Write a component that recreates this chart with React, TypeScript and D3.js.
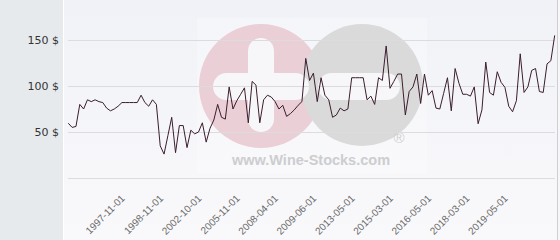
import React from "react";
import * as d3 from "d3";

const prices: number[] = [
  59.5, 55, 56, 80, 75, 85, 83, 85, 83, 82,
  76, 73, 75, 78, 82, 82, 82, 82, 82, 90,
  82, 78, 85, 80, 35, 26, 46, 66, 27.5, 57,
  57, 33, 52, 48, 50, 60, 39, 54, 63, 80,
  66, 64, 99, 75, 84, 91, 98, 60, 105, 101,
  60, 85, 90, 88, 83, 75, 79, 67, 70, 74,
  79, 83, 130, 106, 114, 83, 109, 90, 85, 66,
  68.5, 76, 73, 75, 109, 109, 109, 109, 85, 89,
  80, 109, 106, 143.5, 97.5, 105, 113, 113, 68.5, 94,
  99, 113, 81, 113, 90, 95, 76, 75, 92, 109,
  73, 119, 103, 91, 91, 89, 99, 59, 74, 126,
  93, 90, 115.5, 104, 98.6, 78, 72, 84, 135, 93,
  99, 117, 119, 94, 93, 124, 127.5, 155,
];

const tickLabels: string[] = [
  "1997-11-01", "1998-11-01", "2002-10-01", "2005-11-01", "2008-04-01",
  "2009-06-01", "2013-05-01", "2015-03-01", "2016-05-01", "2018-03-01", "2019-05-01",
];
const tickIndices: number[] = [14, 24, 34, 44, 54, 64, 74, 84, 94, 104, 114];

const yTicks: number[] = [0, 50, 100, 150];

export default function App() {
  const W = 560, H = 240;
  const idx = prices.map((_, i) => i);
  const x = d3.scalePoint<number>().domain(idx).range([68.3, 554.7]);
  const y = d3.scaleLinear().domain([0, 150]).range([178, 40]);
  const line = d3.line<number>().x((_, i) => x(i) as number).y((d) => y(d));

  return (
    <svg width={W} height={H} style={{ position: "absolute", left: 0, top: 0, display: "block" }}>
      <defs>
        <linearGradient id="bg" x1="0" y1="0" x2="0" y2="1">
          <stop offset="0" stopColor="#f1f2f7" />
          <stop offset="1" stopColor="#f9f9fb" />
        </linearGradient>
      </defs>
      <rect x={0} y={0} width={W} height={H} fill="#f7f7f9" />
      <rect x={0} y={0} width={63} height={H} fill="#e6eaed" />
      <rect x={64} y={0} width={493} height={H} fill="url(#bg)" />
      <line x1={63.5} x2={63.5} y1={0} y2={H} stroke="#ffffff" strokeWidth={1} />
      <line x1={557.5} x2={557.5} y1={0} y2={H} stroke="#cfcfd3" strokeWidth={1} />

      {/* watermark */}
      <g>
        <rect x={197} y={18} width={230} height={155} fill="#ffffff" opacity={0.25} />
        <circle cx={261} cy={86} r={62} fill="#eacfd6" />
        <circle cx={362} cy={85} r={61} fill="#dadadb" />
        <rect x={213} y={73} width={96} height={27} rx={13.5} fill="#f7f7f9" />
        <rect x={248} y={38} width={26} height={94} rx={13} fill="#f7f7f9" />
        <rect x={318} y={73} width={82} height={27} rx={13.5} fill="#f7f7f9" />
        <text x={311} y={165} textAnchor="middle" fontFamily="Liberation Sans, Arial, sans-serif" fontWeight="bold" fontSize={14.5} fill="#cdcdcf">www.Wine-Stocks.com</text>
        <text x={399} y={143} textAnchor="middle" fontFamily="Liberation Sans, Arial, sans-serif" fontSize={15} fill="#d0d0d2">®</text>
      </g>

      {yTicks.map((t) => (
        <line key={t} x1={68} x2={555} y1={Math.round(y(t)) + 0.5} y2={Math.round(y(t)) + 0.5} stroke="#dcdcde" strokeWidth={1} />
      ))}
      {yTicks.filter((t) => t > 0).map((t) => (
        <text key={t} x={59} y={y(t)} dy="0.35em" textAnchor="end" fontFamily="DejaVu Sans, sans-serif" fontSize={11} fill="#333">{`${t} $`}</text>
      ))}

      <path d={line(prices) || ""} fill="none" stroke="#3b1d2c" strokeWidth={1} strokeLinejoin="round" />

      {tickIndices.map((ti, k) => (
        <text key={ti} transform={`translate(${(x(ti) as number) + 3.6},199) rotate(-45)`} textAnchor="end" fontFamily="Liberation Sans, Arial, sans-serif" fontSize={10} fill="#6a6a6a">{tickLabels[k]}</text>
      ))}
    </svg>
  );
}
